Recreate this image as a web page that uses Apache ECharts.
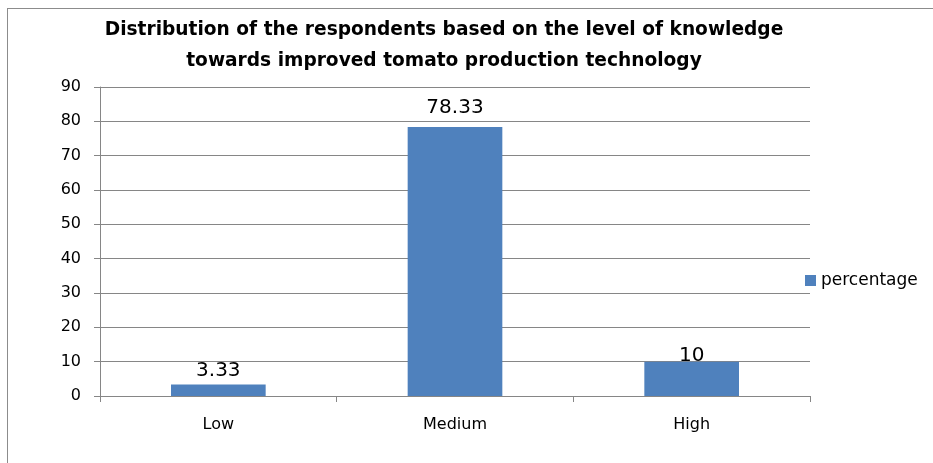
<!DOCTYPE html>
<html>
<head>
<meta charset="utf-8">
<script src="https://cdn.jsdelivr.net/npm/echarts@6/dist/echarts.min.js"></script>
<style>
html,body{margin:0;padding:0;background:#fff;overflow:hidden;}
#wrap{position:relative;width:933px;height:463px;overflow:hidden;}
#frame{position:absolute;left:7px;top:8px;width:2000px;height:2000px;border-left:1px solid #8c8c8c;border-top:1px solid #8c8c8c;}
#c{position:absolute;left:0;top:0;width:933px;height:463px;}
</style>
</head>
<body>
<div id="wrap"><div id="frame"></div><div id="c"></div></div>
<script>
var categories = ['Low', 'Medium', 'High'];
var percentage = [3.33, 78.33, 10];
var yTicks = {min: 0, max: 90, interval: 10};
var titleLines = ['Distribution of the respondents based on the level of knowledge', 'towards improved tomato production technology'];

var FONT = "'DejaVu Sans', sans-serif";
var labelDist = [4, 9, -4];

var chart = echarts.init(document.getElementById('c'), null, {renderer: 'canvas'});
chart.setOption({
  animation: false,
  backgroundColor: 'transparent',
  title: {
    text: titleLines.join('\n'),
    left: 439,
    textAlign: 'center',
    top: 10,
    textStyle: {fontFamily: FONT, fontWeight: 'bold', fontSize: 18.6, color: '#000', lineHeight: 31}
  },
  legend: {
    data: ['percentage'],
    left: 805,
    top: 272,
    padding: 0,
    itemWidth: 11,
    itemHeight: 11,
    icon: 'rect',
    textStyle: {fontFamily: FONT, fontSize: 17, color: '#000'}
  },
  grid: {left: 100, right: 123, top: 87, bottom: 67, containLabel: false},
  xAxis: {
    type: 'category',
    data: categories,
    boundaryGap: true,
    axisLine: {lineStyle: {color: '#868686', width: 1}},
    axisTick: {show: true, length: 6, lineStyle: {color: '#868686'}},
    axisLabel: {fontFamily: FONT, fontSize: 16, color: '#000', margin: 21}
  },
  yAxis: {
    type: 'value',
    min: yTicks.min, max: yTicks.max, interval: yTicks.interval,
    axisLine: {show: true, lineStyle: {color: '#868686', width: 1}},
    axisTick: {show: true, length: 6, lineStyle: {color: '#868686'}},
    splitLine: {show: true, lineStyle: {color: '#868686', width: 1}},
    axisLabel: {fontFamily: FONT, fontSize: 16, color: '#000', margin: 19}
  },
  series: [{
    name: 'percentage',
    type: 'bar',
    barWidth: '40%',
    itemStyle: {color: '#4F81BD'},
    data: percentage.map(function (v, i) {
      return {value: v, label: {distance: labelDist[i]}};
    }),
    label: {
      show: true,
      position: 'top',
      fontFamily: FONT,
      fontSize: 20,
      color: '#000'
    }
  }]
});
</script>
</body>
</html>
